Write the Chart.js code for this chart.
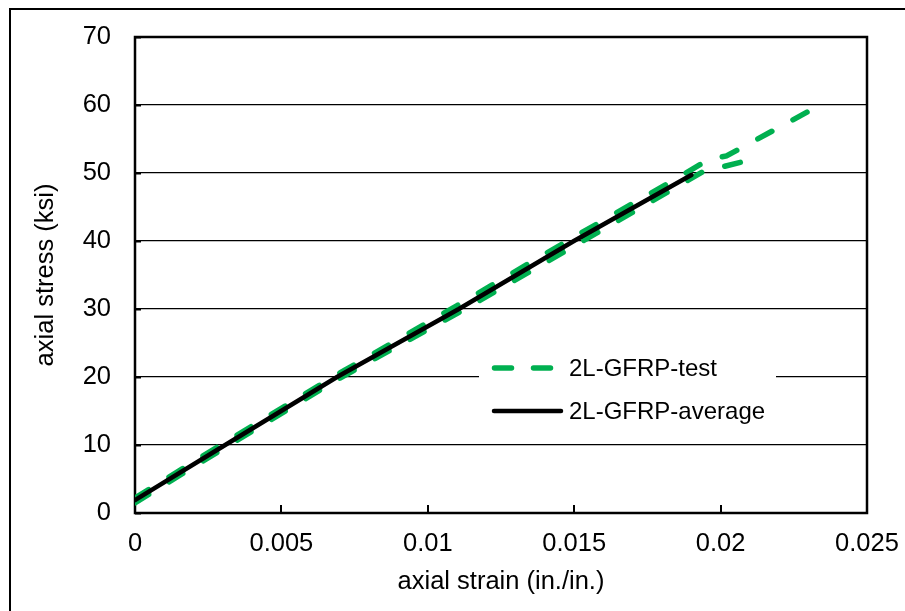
<!DOCTYPE html>
<html>
<head>
<meta charset="utf-8">
<title>2L-GFRP axial stress-strain</title>
<script src="https://cdn.jsdelivr.net/npm/chart.js@4.4.1/dist/chart.umd.min.js"></script>
<style>
  html, body { margin: 0; padding: 0; background: #fff; }
  canvas { display: block; }
</style>
</head>
<body>
<canvas id="stressChart" width="905" height="611"></canvas>
<script>
// ─── Data ────────────────────────────────────────────────────────────────────
const xTickValues = [0, 0.005, 0.01, 0.015, 0.02, 0.025];
const yTickValues = [0, 10, 20, 30, 40, 50, 60, 70];

const avgStrain = [0, 0.00308, 0.0069, 0.01106, 0.01499, 0.0190];
const avgStress = [1.9, 10, 20, 30, 40, 49.7];

// three specimens, drawn with one legend entry
const test1Strain = [0, 0.003, 0.007, 0.011, 0.015, 0.0185, 0.0196, 0.0202, 0.0231];
const test1Stress = [2.2, 10.2, 20.6, 30.5, 40.6, 49.2, 52.0, 52.5, 59.3];
const test2Strain = [0, 0.0031, 0.0069, 0.0111, 0.0151, 0.0194, 0.0208];
const test2Stress = [1.5, 9.7, 19.6, 29.6, 39.5, 50.2, 51.7];
const test3Strain = [0, 0.003, 0.007, 0.011, 0.015, 0.0188];
const test3Stress = [1.8, 9.9, 20.1, 29.9, 39.9, 49.3];

const GREEN = '#00B050';
const FONT = "'Liberation Sans', Arial, sans-serif";

const pts = (xs, ys) => xs.map((x, i) => ({ x, y: ys[i] }));

const testStyle = {
  showLine: true,
  pointRadius: 0,
  borderColor: GREEN,
  borderWidth: 5.5,
  borderDash: [16, 24],
  borderCapStyle: 'round',
  tension: 0,
};

// ─── Plugins ─────────────────────────────────────────────────────────────────
const frame = {
  id: 'frame',
  beforeDraw(chart) {
    const { ctx } = chart;
    ctx.save();
    ctx.fillStyle = '#fff';
    ctx.fillRect(0, 0, chart.width, chart.height);
    ctx.strokeStyle = '#000';
    ctx.lineWidth = 2;
    ctx.strokeRect(10, 9, chart.width + 20, chart.height + 20);
    ctx.restore();
  },
  beforeDatasetsDraw(chart) {
    const { ctx, chartArea: a, scales } = chart;
    ctx.save();
    ctx.strokeStyle = '#000';
    ctx.lineWidth = 2;
    // inner tick marks
    ctx.beginPath();
    xTickValues.forEach(v => {
      const px = Math.round(scales.x.getPixelForValue(v));
      ctx.moveTo(px, a.bottom);
      ctx.lineTo(px, a.bottom - 8);
    });
    yTickValues.forEach(v => {
      const py = Math.round(scales.y.getPixelForValue(v)) + 0.5;
      ctx.moveTo(a.left, py);
      ctx.lineTo(a.left + 6, py);
    });
    ctx.stroke();
    ctx.lineWidth = 2.5;
    ctx.strokeRect(a.left, a.top, a.right - a.left, a.bottom - a.top);
    ctx.restore();
  },
};

const insideLegend = {
  id: 'insideLegend',
  afterDatasetsDraw(chart) {
    const { ctx, chartArea: a } = chart;
    const bx = a.left + 344, by = a.top + 314, bw = 297, bh = 88;
    ctx.save();
    ctx.fillStyle = '#fff';
    ctx.fillRect(bx, by, bw, bh);

    const items = [
      { text: '2L-GFRP-test', color: GREEN, width: 5.5, dash: [17, 22], y: by + 17, x1: bx + 15.5, x2: bx + 72 },
      { text: '2L-GFRP-average', color: '#000', width: 4.5, dash: [], y: by + 60, x1: bx + 15, x2: bx + 82 },
    ];
    items.forEach(it => {
      ctx.beginPath();
      ctx.strokeStyle = it.color;
      ctx.lineWidth = it.width;
      ctx.lineCap = 'round';
      ctx.setLineDash(it.dash);
      ctx.moveTo(it.x1, it.y);
      ctx.lineTo(it.x2, it.y);
      ctx.stroke();
      ctx.setLineDash([]);
      ctx.fillStyle = '#000';
      ctx.font = '24px ' + FONT;
      ctx.textBaseline = 'middle';
      ctx.textAlign = 'left';
      ctx.fillText(it.text, bx + 90, it.y + 1);
    });
    ctx.restore();
  },
};

// ─── Chart ───────────────────────────────────────────────────────────────────
new Chart(document.getElementById('stressChart'), {
  type: 'scatter',
  data: {
    datasets: [
      {
        label: '2L-GFRP-average',
        data: pts(avgStrain, avgStress),
        showLine: true,
        pointRadius: 0,
        borderColor: '#000',
        borderWidth: 4.5,
        borderCapStyle: 'round',
        tension: 0,
      },
      { label: '2L-GFRP-test', data: pts(test1Strain, test1Stress), ...testStyle },
      { label: '2L-GFRP-test', data: pts(test2Strain, test2Stress), ...testStyle },
      { label: '2L-GFRP-test', data: pts(test3Strain, test3Stress), ...testStyle },
    ],
  },
  options: {
    responsive: false,
    animation: false,
    layout: { padding: { top: 37, right: 38, left: 0, bottom: 0 } },
    plugins: {
      legend: { display: false },
      tooltip: { enabled: false },
    },
    scales: {
      x: {
        type: 'linear',
        min: 0,
        max: 0.025,
        afterBuildTicks: s => { s.ticks = xTickValues.map(value => ({ value })); },
        afterFit: s => { s.height = 98; s.paddingLeft = 0; s.paddingRight = 0; },
        grid: { display: false, drawTicks: false },
        border: { display: false },
        ticks: {
          padding: 16,
          color: '#000',
          font: { family: FONT, size: 25.5 },
          maxRotation: 0,
          callback: v => String(Number(v.toFixed(4))),
        },
        title: {
          display: true,
          text: 'axial strain (in./in.)',
          color: '#000',
          font: { family: FONT, size: 25.5 },
          padding: { top: 0, bottom: 14 },
        },
      },
      y: {
        type: 'linear',
        min: 0,
        max: 70,
        afterBuildTicks: s => { s.ticks = yTickValues.map(value => ({ value })); },
        afterFit: s => { s.width = 135; s.paddingTop = 0; s.paddingBottom = 0; },
        grid: { color: '#000', lineWidth: 1.3, drawTicks: false },
        border: { display: false },
        ticks: {
          padding: 24,
          color: '#000',
          font: { family: FONT, size: 25.5 },
        },
        title: {
          display: true,
          text: 'axial stress (ksi)',
          color: '#000',
          font: { family: FONT, size: 25.5 },
          padding: { top: 31, bottom: 0 },
        },
      },
    },
  },
  plugins: [frame, insideLegend],
});
</script>
</body>
</html>
